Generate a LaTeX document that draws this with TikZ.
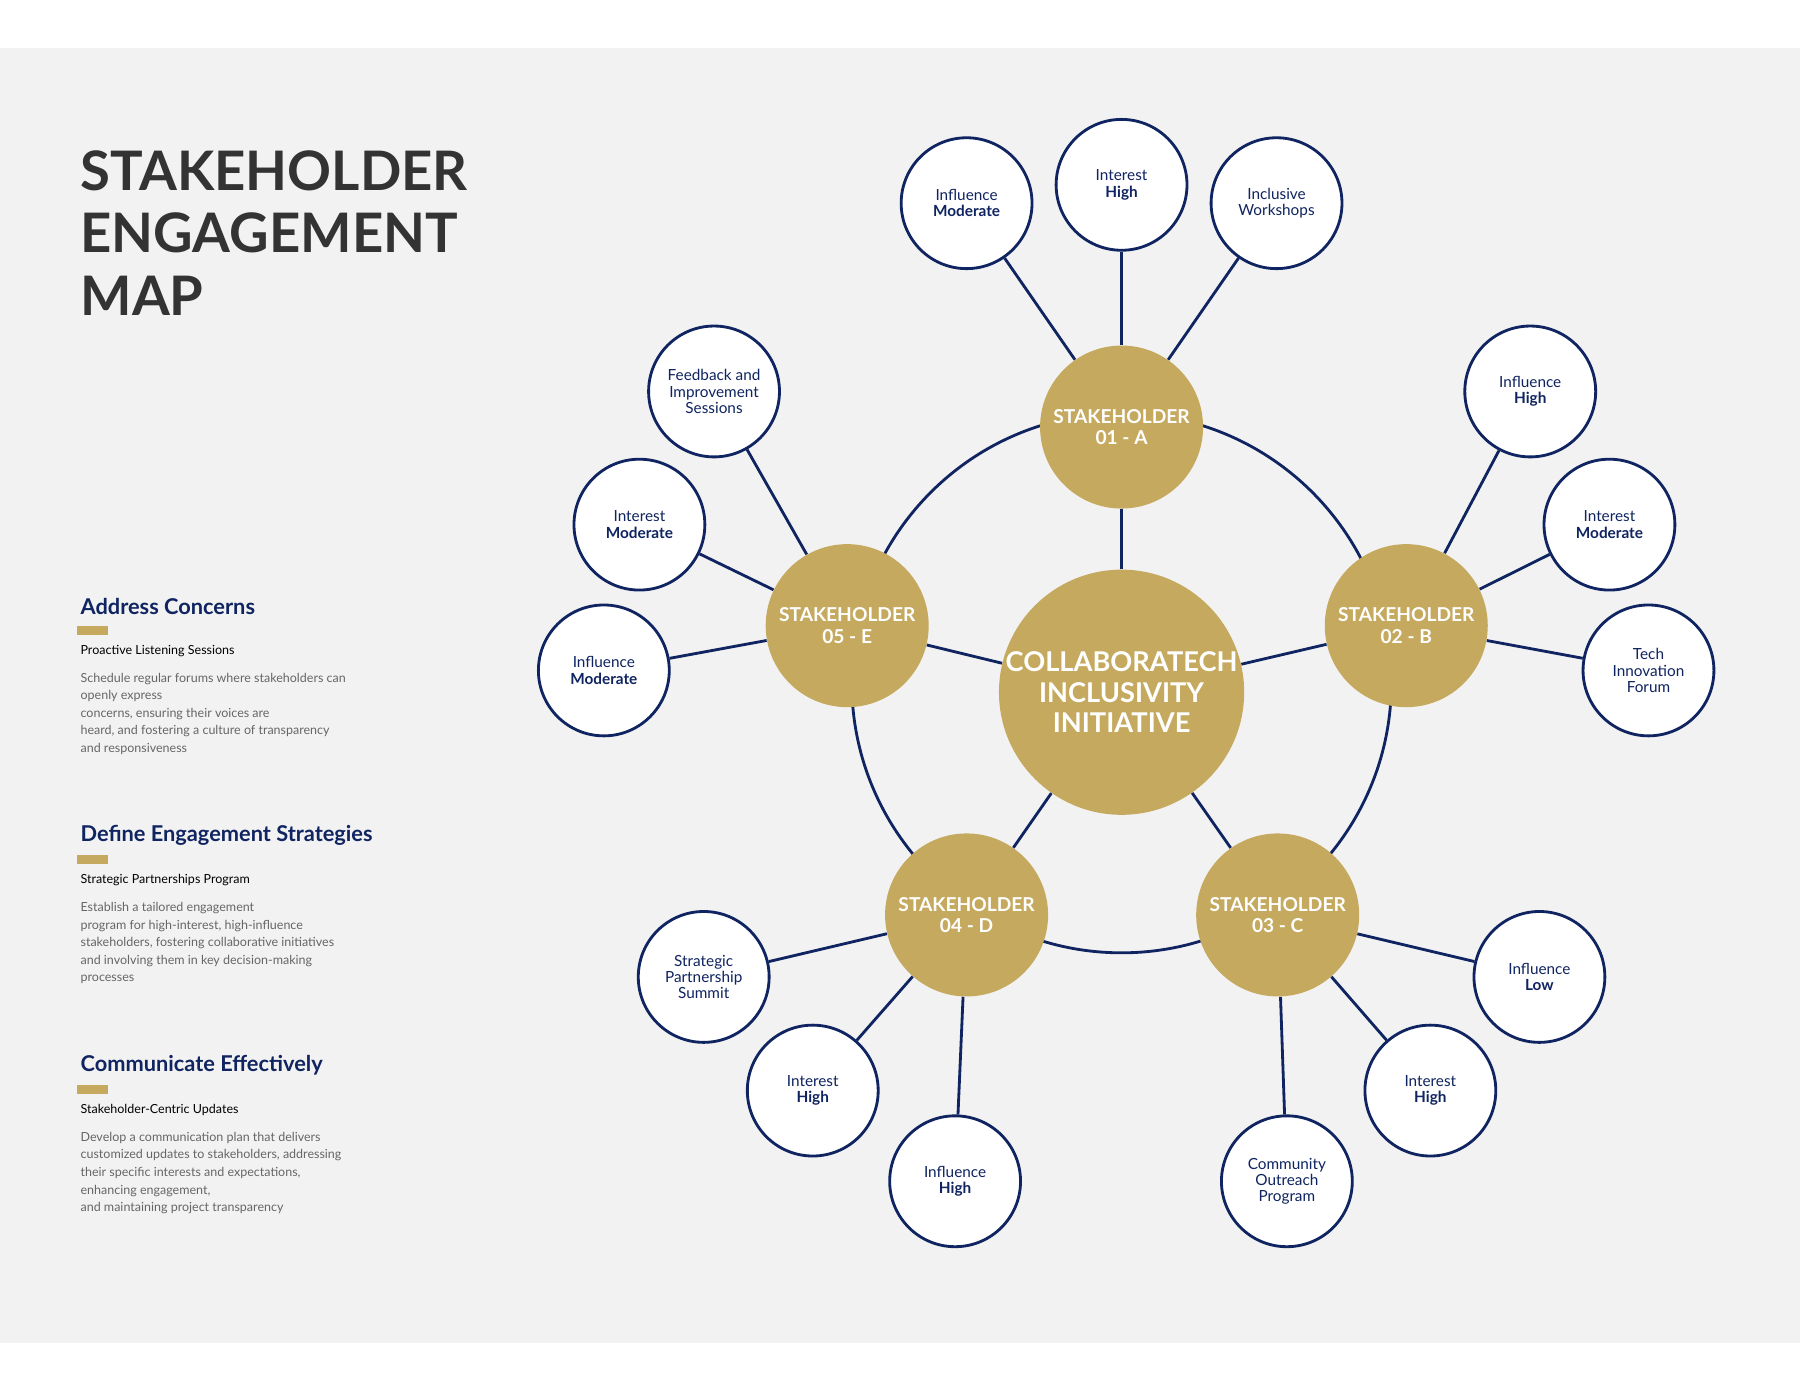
\documentclass[tikz,border=0pt]{standalone}
\usepackage{fontspec}
\setmainfont{Lato}
\definecolor{gold}{HTML}{C5A95E}
\definecolor{navy}{HTML}{0F2460}
\definecolor{paper}{HTML}{F2F2F2}
\definecolor{ink}{HTML}{333333}
\definecolor{body}{HTML}{666666}
\tikzset{
  hub/.style={circle, fill=gold, minimum size=208\pxu, text=white, font=\fontsize{13.5}{15}\selectfont\bfseries, align=center, inner sep=0pt},
  holder/.style={circle, fill=gold, minimum size=142\pxu, text=white, font=\fontsize{9.5}{10.5}\selectfont\bfseries, align=center, inner sep=0pt},
  leaf/.style={circle, draw=navy, line width=1.4pt, fill=white, minimum size=114\pxu, text=navy, font=\fontsize{7.6}{8}\selectfont, align=center, inner sep=0pt},
  link/.style={navy, line width=1.4pt},
  heading/.style={anchor=west, text=navy, font=\fontsize{10.8}{12}\selectfont\bfseries},
  subhead/.style={anchor=west, text=black, font=\fontsize{6.2}{7}\selectfont},
  para/.style={anchor=north west, text=body, font=\fontsize{6.2}{8.7}\selectfont, align=left}
}
\newlength{\pxu}\setlength{\pxu}{0.02cm}
\begin{document}
\begin{tikzpicture}[x=0.02cm, y=-0.02cm]
    \useasboundingbox (0,0) rectangle (1568,1211);
    \fill[white] (0,0) rectangle (1568,1211);
    \fill[paper] (0,42) rectangle (1568,1170);

    % title
    \node[anchor=west, text=ink, font=\fontsize{27}{31}\selectfont\bfseries, align=left] (title) at (64,203) {STAKEHOLDER\\ENGAGEMENT\\MAP};

    % left notes
    \node[heading] (h1) at (64,528) {Address Concerns};
    \fill[gold] (67,545) rectangle (94,553);
    \node[subhead] (s1) at (64,567) {Proactive Listening Sessions};
    \node[para] (p1) at (64,580) {Schedule regular forums where stakeholders can\\openly express\\concerns, ensuring their voices are\\heard, and fostering a culture of transparency\\and responsiveness};

    \node[heading] (h2) at (64,728) {Define Engagement Strategies};
    \fill[gold] (67,745) rectangle (94,753);
    \node[subhead] (s2) at (64,767) {Strategic Partnerships Program};
    \node[para] (p2) at (64,780) {Establish a tailored engagement\\program for high-interest, high-influence\\stakeholders, fostering collaborative initiatives\\and involving them in key decision-making\\processes};

    \node[heading] (h3) at (64,928) {Communicate Effectively};
    \fill[gold] (67,945) rectangle (94,953);
    \node[subhead] (s3) at (64,967) {Stakeholder-Centric Updates};
    \node[para] (p3) at (64,980) {Develop a communication plan that delivers\\customized updates to stakeholders, addressing\\their specific interests and expectations,\\enhancing engagement,\\and maintaining project transparency};

    % ring
    \draw[link] (977,595) circle (235);

    % hub and stakeholders
    \node[hub] (hub) at (977,603) {COLLABORATECH\\INCLUSIVITY\\INITIATIVE};
    \node[holder] (sa) at (977,372) {STAKEHOLDER\\01 - A};
    \node[holder] (sb) at (1225,545) {STAKEHOLDER\\02 - B};
    \node[holder] (sc) at (1113,797) {STAKEHOLDER\\03 - C};
    \node[holder] (sd) at (842,797) {STAKEHOLDER\\04 - D};
    \node[holder] (se) at (738,545) {STAKEHOLDER\\05 - E};
    \foreach \s in {sa,sb,sc,sd,se}
        \draw[link] (hub) -- (\s);

    % outer circles
    \node[leaf] (a1) at (842,177) {Influence\\\textbf{Moderate}};
    \node[leaf] (a2) at (977,161) {Interest\\\textbf{High}};
    \node[leaf] (a3) at (1112,177) {Inclusive\\Workshops};
    \node[leaf] (b1) at (1333,341) {Influence\\\textbf{High}};
    \node[leaf] (b2) at (1402,457) {Interest\\\textbf{Moderate}};
    \node[leaf] (b3) at (1436,584) {Tech\\Innovation\\Forum};
    \node[leaf] (c1) at (1341,851) {Influence\\\textbf{Low}};
    \node[leaf] (c2) at (1246,950) {Interest\\\textbf{High}};
    \node[leaf] (c3) at (1121,1029) {Community\\Outreach\\Program};
    \node[leaf] (d1) at (613,851) {Strategic\\Partnership\\Summit};
    \node[leaf] (d2) at (708,950) {Interest\\\textbf{High}};
    \node[leaf] (d3) at (832,1029) {Influence\\\textbf{High}};
    \node[leaf] (e1) at (622,341) {Feedback and\\Improvement\\Sessions};
    \node[leaf] (e2) at (557,457) {Interest\\\textbf{Moderate}};
    \node[leaf] (e3) at (526,584) {Influence\\\textbf{Moderate}};

    \foreach \s/\l in {sa/a1,sa/a2,sa/a3,sb/b1,sb/b2,sb/b3,sc/c1,sc/c2,sc/c3,sd/d1,sd/d2,sd/d3,se/e1,se/e2,se/e3}
        \draw[link] (\s) -- (\l);
\end{tikzpicture}
\end{document}
